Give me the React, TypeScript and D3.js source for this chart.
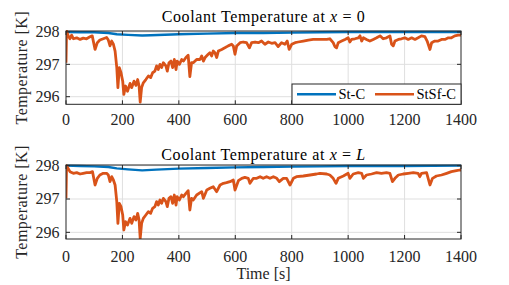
import React, { useRef, useEffect } from "react";
import * as d3 from "d3";

// [time s, temperature K]
const stTop = [
  [0, 298.0], [50, 297.99], [100, 297.99], [150, 297.97], [180, 297.93], [220, 297.91],
  [270, 297.89], [300, 297.9], [400, 297.93], [500, 297.95], [600, 297.97], [700, 297.97],
  [800, 297.98], [900, 297.99], [1000, 298.0], [1200, 298.0], [1400, 298.0],
];

const stsfTop = [
  [0, 297.05], [2, 298.03], [8, 297.88], [14, 297.79], [20, 297.9], [26, 297.79], [38, 297.82],
  [50, 297.77], [61, 297.81], [73, 297.79], [85, 297.85], [93, 297.88], [103, 297.46], [111, 297.67],
  [120, 297.75], [132, 297.79], [144, 297.83], [150, 297.75], [156, 297.57], [162, 297.72],
  [168, 297.62], [174, 297.41], [180, 296.9], [184, 296.28], [189, 296.9], [195, 296.74],
  [201, 296.48], [205, 296.07], [211, 296.33], [218, 296.17], [227, 296.41], [233, 296.28],
  [241, 296.48], [248, 296.35], [254, 296.53], [259, 296.33], [263, 295.83], [268, 296.28],
  [274, 296.43], [283, 296.53], [292, 296.64], [300, 296.59], [307, 296.74], [315, 296.79],
  [321, 296.95], [327, 296.84], [333, 297.0], [339, 296.9], [345, 297.05], [354, 296.95],
  [359, 296.79], [365, 297.05], [372, 297.1], [378, 296.9], [384, 297.15], [390, 296.84],
  [394, 297.1], [402, 297.0], [410, 297.15], [416, 297.1], [425, 297.21], [433, 297.28],
  [439, 296.62], [445, 297.05], [451, 297.05], [463, 297.15], [475, 297.15], [481, 297.26],
  [487, 297.1], [493, 297.21], [504, 297.31], [510, 297.36], [516, 297.26], [522, 297.41],
  [528, 297.36], [534, 297.21], [540, 297.41], [552, 297.46], [563, 297.51], [575, 297.57],
  [587, 297.62], [593, 297.57], [599, 297.31], [605, 297.57], [617, 297.67], [628, 297.69],
  [640, 297.67], [650, 297.51], [658, 297.67], [670, 297.69], [682, 297.67], [693, 297.72],
  [705, 297.62], [717, 297.69], [729, 297.65], [741, 297.67], [752, 297.55], [764, 297.67],
  [776, 297.62], [784, 297.72], [791, 297.46], [800, 297.62], [812, 297.67], [823, 297.69],
  [841, 297.72], [859, 297.75], [876, 297.77], [894, 297.77], [912, 297.77], [924, 297.77],
  [935, 297.79], [947, 297.67], [953, 297.55], [959, 297.51], [965, 297.67], [977, 297.72],
  [989, 297.77], [1000, 297.82], [1006, 297.69], [1012, 297.77], [1024, 297.79], [1036, 297.82],
  [1042, 297.88], [1048, 297.72], [1054, 297.82], [1065, 297.77], [1077, 297.72], [1089, 297.77],
  [1101, 297.82], [1113, 297.88], [1124, 297.79], [1136, 297.82], [1148, 297.88], [1154, 297.62],
  [1160, 297.57], [1166, 297.72], [1178, 297.77], [1189, 297.79], [1201, 297.82], [1213, 297.77],
  [1225, 297.82], [1237, 297.77], [1248, 297.82], [1260, 297.88], [1272, 297.86], [1280, 297.72],
  [1290, 297.46], [1296, 297.67], [1307, 297.72], [1319, 297.72], [1331, 297.77], [1343, 297.77],
  [1355, 297.82], [1366, 297.82], [1378, 297.88], [1390, 297.9], [1400, 297.9],
];

const stBottom = [
  [0, 298.0], [50, 297.99], [100, 297.98], [150, 297.96], [180, 297.92], [220, 297.89],
  [270, 297.86], [320, 297.88], [400, 297.91], [500, 297.93], [600, 297.95], [700, 297.96],
  [800, 297.97], [900, 297.98], [1000, 297.99], [1200, 297.99], [1400, 298.0],
];

const stsfBottom = [
  [0, 297.02], [2, 298.0], [14, 297.82], [26, 297.77], [38, 297.79], [50, 297.75], [61, 297.77],
  [73, 297.79], [85, 297.79], [94, 297.82], [103, 297.42], [111, 297.62], [120, 297.72],
  [132, 297.77], [144, 297.77], [150, 297.72], [156, 297.52], [162, 297.67], [168, 297.57],
  [174, 297.42], [180, 296.92], [184, 296.27], [189, 296.87], [195, 296.77], [201, 296.52],
  [205, 296.07], [211, 296.32], [218, 296.22], [227, 296.42], [233, 296.27], [241, 296.47],
  [248, 296.37], [254, 296.57], [259, 296.37], [263, 295.82], [268, 296.27], [274, 296.42],
  [283, 296.52], [292, 296.62], [300, 296.57], [307, 296.72], [315, 296.77], [321, 296.92],
  [327, 296.82], [333, 296.97], [339, 296.87], [345, 297.02], [354, 296.92], [359, 296.77],
  [365, 297.02], [372, 297.07], [378, 296.87], [384, 297.12], [390, 296.82], [394, 297.07],
  [402, 296.97], [410, 297.12], [416, 297.07], [425, 297.17], [433, 297.25], [439, 296.67],
  [445, 297.02], [451, 296.97], [463, 297.12], [481, 297.22], [487, 297.02], [499, 297.27],
  [510, 297.32], [522, 297.37], [534, 297.22], [546, 297.42], [558, 297.47], [569, 297.49],
  [581, 297.52], [593, 297.57], [599, 297.27], [611, 297.55], [623, 297.62], [634, 297.65],
  [646, 297.62], [652, 297.47], [664, 297.62], [676, 297.62], [688, 297.67], [699, 297.62],
  [711, 297.67], [723, 297.62], [735, 297.67], [747, 297.62], [756, 297.52], [770, 297.62],
  [782, 297.62], [794, 297.42], [806, 297.62], [817, 297.67], [841, 297.69], [865, 297.72],
  [888, 297.75], [900, 297.77], [924, 297.75], [935, 297.72], [947, 297.62], [957, 297.47],
  [965, 297.62], [983, 297.69], [1000, 297.77], [1006, 297.62], [1018, 297.75], [1036, 297.79],
  [1048, 297.77], [1054, 297.62], [1065, 297.72], [1083, 297.75], [1101, 297.79], [1118, 297.77],
  [1136, 297.79], [1148, 297.77], [1157, 297.52], [1166, 297.62], [1178, 297.72], [1195, 297.75],
  [1213, 297.77], [1231, 297.79], [1248, 297.77], [1254, 297.67], [1260, 297.77], [1278, 297.79],
  [1290, 297.42], [1299, 297.62], [1313, 297.69], [1331, 297.72], [1349, 297.77], [1366, 297.82],
  [1384, 297.85], [1396, 297.87], [1400, 297.87],
];

const xTicks = [0, 200, 400, 600, 800, 1000, 1200, 1400];
const yTicks = [296, 297, 298];
const seriesNames = ["St-C", "StSf-C"];
const colors = ["#0072BD", "#D95319"];

const W = 509;
const H = 285;
const FONT = "'Liberation Serif', 'Times New Roman', serif";
const INK = "#262626";

const panels = [
  { top: 31, bottom: 104.3, ylim: [295.765, 298.03], st: stTop, stsf: stsfTop, sub: "0", legend: true, titleY: 22, tickY: 125 },
  { top: 165, bottom: 239, ylim: [295.8, 298.02], st: stBottom, stsf: stsfBottom, sub: "L", legend: false, titleY: 159.5, tickY: 261.5 },
];

const App = () => {
  const svgRef = useRef(null);

  useEffect(() => {
    const svg = d3.select(svgRef.current);
    svg.selectAll("*").remove();

    const left = 66;
    const right = 461;
    const x = d3.scaleLinear().domain([0, 1400]).range([left, right]);

    panels.forEach((p) => {
      const y = d3.scaleLinear().domain(p.ylim).range([p.bottom, p.top]);
      const g = svg.append("g");

      // grid
      g.selectAll(".gx")
        .data(xTicks.slice(1, -1))
        .enter()
        .append("line")
        .attr("x1", (d) => x(d)).attr("x2", (d) => x(d))
        .attr("y1", p.top).attr("y2", p.bottom)
        .attr("stroke", "#dfdfdf").attr("stroke-width", 1);
      g.selectAll(".gy")
        .data(yTicks)
        .enter()
        .append("line")
        .attr("x1", left).attr("x2", right)
        .attr("y1", (d) => y(d)).attr("y2", (d) => y(d))
        .attr("stroke", "#dfdfdf").attr("stroke-width", 1);

      // clip for lines
      const clipId = `clip-${p.sub}`;
      svg.append("clipPath").attr("id", clipId)
        .append("rect")
        .attr("x", left).attr("y", p.top - 1)
        .attr("width", right - left).attr("height", p.bottom - p.top + 1);

      const line = d3.line().x((d) => x(d[0])).y((d) => y(d[1]));

      g.append("path")
        .datum(p.st)
        .attr("fill", "none")
        .attr("stroke", colors[0])
        .attr("stroke-width", 2.4)
        .attr("stroke-linejoin", "round")
        .attr("clip-path", `url(#${clipId})`)
        .attr("d", line);

      g.append("path")
        .datum(p.stsf)
        .attr("fill", "none")
        .attr("stroke", colors[1])
        .attr("stroke-width", 2.8)
        .attr("stroke-linejoin", "round")
        .attr("clip-path", `url(#${clipId})`)
        .attr("d", line);

      // box
      g.append("rect")
        .attr("x", left).attr("y", p.top)
        .attr("width", right - left).attr("height", p.bottom - p.top)
        .attr("fill", "none").attr("stroke", INK).attr("stroke-width", 1);

      // ticks (inward, all sides)
      xTicks.forEach((t) => {
        g.append("line").attr("x1", x(t)).attr("x2", x(t))
          .attr("y1", p.bottom).attr("y2", p.bottom - 4).attr("stroke", INK);
        g.append("line").attr("x1", x(t)).attr("x2", x(t))
          .attr("y1", p.top).attr("y2", p.top + 4).attr("stroke", INK);
      });
      yTicks.forEach((t) => {
        g.append("line").attr("x1", left).attr("x2", left + 4)
          .attr("y1", y(t)).attr("y2", y(t)).attr("stroke", INK);
        g.append("line").attr("x1", right).attr("x2", right - 4)
          .attr("y1", y(t)).attr("y2", y(t)).attr("stroke", INK);
      });

      // tick labels
      g.selectAll(".xl")
        .data(xTicks)
        .enter()
        .append("text")
        .attr("x", (d) => x(d))
        .attr("y", p.tickY)
        .attr("text-anchor", "middle")
        .style("font-family", FONT).style("font-size", "16px").attr("fill", INK)
        .text((d) => d);
      g.selectAll(".yl")
        .data(yTicks)
        .enter()
        .append("text")
        .attr("x", left - 6.5)
        .attr("y", (d) => y(d) + 5.3)
        .attr("text-anchor", "end")
        .style("font-family", FONT).style("font-size", "16px").attr("fill", INK)
        .text((d) => d);

      // y label
      g.append("text")
        .attr("transform", `translate(26.5,${(p.top + p.bottom) / 2}) rotate(-90)`)
        .attr("text-anchor", "middle")
        .style("font-family", FONT).style("font-size", "16px").style("letter-spacing", "0.45px")
        .attr("fill", INK)
        .text("Temperature [K]");

      // title
      const title = g.append("text")
        .attr("x", (left + right) / 2)
        .attr("y", p.titleY)
        .attr("text-anchor", "middle")
        .style("font-family", FONT).style("font-size", "16px").style("letter-spacing", "0.6px")
        .attr("fill", "#000");
      title.append("tspan").text("Coolant Temperature at ");
      title.append("tspan").style("font-style", "italic").text("x");
      title.append("tspan").text(" = ");
      title.append("tspan").style("font-style", p.sub === "L" ? "italic" : "normal").text(p.sub);

      if (p.legend) {
        const lg = g.append("g");
        lg.append("rect")
          .attr("x", 292).attr("y", 84)
          .attr("width", right - 292).attr("height", p.bottom - 84)
          .attr("fill", "#fff").attr("stroke", INK).attr("stroke-width", 1);
        const items = [
          { x0: 297, x1: 336, tx: 338.5 },
          { x0: 375, x1: 414, tx: 416.5 },
        ];
        items.forEach((it, i) => {
          lg.append("line")
            .attr("x1", it.x0).attr("x2", it.x1)
            .attr("y1", 94.3).attr("y2", 94.3)
            .attr("stroke", colors[i]).attr("stroke-width", 2.6);
          lg.append("text")
            .attr("x", it.tx).attr("y", 99.3)
            .style("font-family", FONT).style("font-size", "14.5px").attr("fill", "#000")
            .text(seriesNames[i]);
        });
      }
    });

    svg.append("text")
      .attr("x", (left + right) / 2)
      .attr("y", 278.5)
      .attr("text-anchor", "middle")
      .style("font-family", FONT).style("font-size", "16px").attr("fill", INK)
      .text("Time [s]");
  }, []);

  return (
    <svg
      ref={svgRef}
      width={W}
      height={H}
      style={{ position: "absolute", left: 0, top: 0, background: "#fff" }}
    ></svg>
  );
};

export default App;
